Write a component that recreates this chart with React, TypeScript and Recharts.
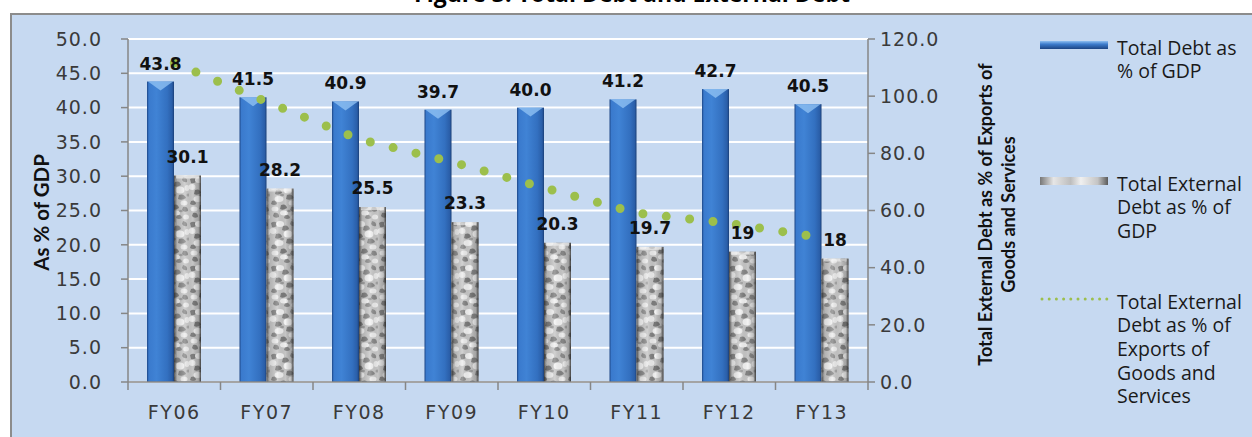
import React from "react"
import { ComposedChart, Bar, Line, XAxis, YAxis, CartesianGrid, LabelList, Label } from "recharts"

const categories = ["FY06", "FY07", "FY08", "FY09", "FY10", "FY11", "FY12", "FY13"]
const totalDebtGdp = [43.8, 41.5, 40.9, 39.7, 40.0, 41.2, 42.7, 40.5]
const externalDebtGdp = [30.1, 28.2, 25.5, 23.3, 20.3, 19.7, 19, 18]
const externalDebtExports = [111.6, 98.0, 84.9, 77.0, 67.9, 59.1, 55.5, 50.5]
const leftTicks = [0, 5, 10, 15, 20, 25, 30, 35, 40, 45, 50]
const rightTicks = [0, 20, 40, 60, 80, 100, 120]

const legendItems = [
  { key: "totalDebt", lines: ["Total Debt as", "% of GDP"], top: 47 },
  { key: "externalDebt", lines: ["Total External", "Debt as % of", "GDP"], top: 183 },
  { key: "externalExports", lines: ["Total External", "Debt as % of", "Exports of", "Goods and", "Services"], top: 301 },
]

const data = categories.map((name, i) => ({
  name,
  totalDebt: totalDebtGdp[i],
  externalDebt: externalDebtGdp[i],
  externalExports: externalDebtExports[i],
}))

const AXIS = "#868686"
const BG = "#c6d9f1"
const GREEN = "#9cbf4c"
const tickStyle = { fontFamily: '"DejaVu Sans", sans-serif', fontSize: 19, letterSpacing: 1, fill: "#3a3a3a" }
const labelStyle = { fontFamily: '"DejaVu Sans", sans-serif', fontSize: 17, fontWeight: 700, fill: "#111" }

function BlueBar(props: any) {
  const { x, y, width, height } = props
  if (!height || height <= 0) return null
  return (
    <g>
      <rect x={x} y={y} width={width} height={height} fill="url(#blueBody)" />
      <polygon points={`${x + 1},${y} ${x + width - 1},${y} ${x + width / 2},${y + 9}`} fill="#8fc0f2" opacity={0.8} />
    </g>
  )
}

function StoneBar(props: any) {
  const { x, y, width, height } = props
  if (!height || height <= 0) return null
  return (
    <g>
      <rect x={x} y={y} width={width} height={height} fill="url(#stone)" />
      <rect x={x} y={y} width={width} height={height} fill="url(#stoneShade)" />
      <rect x={x + 2} y={y} width={width - 4} height={3} fill="#f6f6f6" opacity={0.6} />
    </g>
  )
}

function CategoryTick(props: any) {
  const { x, y, payload, index } = props
  const half = payload && payload.offset ? payload.offset : 46.25
  const axisY = y - 24
  return (
    <g>
      <line x1={x - half} y1={axisY} x2={x - half} y2={axisY + 8} stroke={AXIS} strokeWidth={1.5} />
      {index === categories.length - 1 && (
        <line x1={x + half} y1={axisY} x2={x + half} y2={axisY + 8} stroke={AXIS} strokeWidth={1.5} />
      )}
      <text x={x} y={y} dy="0.71em" textAnchor="middle" {...tickStyle} letterSpacing={1.6}>
        {payload.value}
      </text>
    </g>
  )
}

function LeftTitle(props: any) {
  const vb = props.viewBox
  const cx = vb.x + 21
  const cy = vb.y + vb.height / 2 + 2
  return (
    <text
      x={cx}
      y={cy}
      transform={`rotate(-90 ${cx} ${cy})`}
      textAnchor="middle"
      dominantBaseline="central"
      style={{ fontFamily: "Lato, sans-serif", fontSize: 20.5, fontWeight: 700, fill: "#111" }}
    >
      As % of GDP
    </text>
  )
}

function RightTitle(props: any) {
  const vb = props.viewBox
  const cy = vb.y + vb.height / 2 + 4
  const lines = ["Total External Debt as % of Exports of", "Goods and Services"]
  const xs = [vb.x + 117, vb.x + 140]
  return (
    <g>
      {lines.map((t, i) => (
        <text
          key={i}
          x={xs[i]}
          y={cy}
          transform={`rotate(-90 ${xs[i]} ${cy})`}
          textAnchor="middle"
          dominantBaseline="central"
          style={{ fontFamily: "Lato, sans-serif", fontSize: 18, fontWeight: 700, fill: "#111" }}
        >
          {t}
        </text>
      ))}
    </g>
  )
}

function LegendIcon({ k, y }: { k: string; y: number }) {
  if (k === "totalDebt") return <rect x={1040} y={y - 4} width={68} height={8} fill="url(#legBlue)" />
  if (k === "externalDebt") return <rect x={1040} y={y - 4} width={68} height={8} fill="url(#legGray)" />
  return <line x1={1042} y1={y} x2={1108} y2={y} stroke={GREEN} strokeWidth={3} strokeDasharray="0 7.2" strokeLinecap="round" />
}

function LegendBlock() {
  return (
    <svg style={{ position: "absolute", left: 0, top: 0 }} width={1252} height={437}>
      <defs>
        <linearGradient id="legBlue" x1="0" y1="0" x2="0" y2="1">
          <stop offset="0" stopColor="#8fbff0" />
          <stop offset="0.4" stopColor="#3d7ccc" />
          <stop offset="1" stopColor="#1d4583" />
        </linearGradient>
        <linearGradient id="legGray" x1="0" y1="0" x2="1" y2="0">
          <stop offset="0" stopColor="#777" />
          <stop offset="0.2" stopColor="#e6e6e6" />
          <stop offset="0.45" stopColor="#bdbdbd" />
          <stop offset="0.6" stopColor="#f0f0f0" />
          <stop offset="0.85" stopColor="#c4c4c4" />
          <stop offset="1" stopColor="#5a5a5a" />
        </linearGradient>
      </defs>
      {legendItems.map((item) => (
        <g key={item.key}>
          <LegendIcon k={item.key} y={item.top - 2} />
          {item.lines.map((t, i) => (
            <text
              key={i}
              x={1117}
              y={item.top + i * 23.7}
              dominantBaseline="central"
              style={{ fontFamily: '"Open Sans", sans-serif', fontSize: 19.5, fill: "#1a1a1a" }}
            >
              {t}
            </text>
          ))}
        </g>
      ))}
    </svg>
  )
}

export default function App() {
  return (
    <div style={{ position: "absolute", left: 0, top: 0, width: 1252, height: 437, overflow: "hidden", background: "#fff" }}>
      <svg style={{ position: "absolute", left: 0, top: 0 }} width={1252} height={14}>
        <text x={632} y={1.5} textAnchor="middle" style={{ fontFamily: '"Open Sans", sans-serif', fontSize: 23, fontWeight: 700, fill: "#000" }}>
          Figure 3: Total Debt and External Debt
        </text>
      </svg>
      <div
        style={{
          position: "absolute",
          left: 10,
          top: 13,
          width: 1260,
          height: 440,
          border: "2px solid #8c8c8c",
          background: BG,
          boxSizing: "border-box",
        }}
      />
      <div style={{ position: "absolute", left: 0, top: 0 }}>
        <ComposedChart
          width={1252}
          height={437}
          data={data}
          margin={{ top: 39, right: 274, bottom: 15, left: 20 }}
          barGap={0}
          barCategoryGap={0}
        >
          <defs>
            <linearGradient id="blueBody" x1="0" y1="0" x2="1" y2="0">
              <stop offset="0" stopColor="#1c4585" />
              <stop offset="0.07" stopColor="#3a7acd" />
              <stop offset="0.35" stopColor="#4083d5" />
              <stop offset="0.75" stopColor="#3370c0" />
              <stop offset="0.93" stopColor="#2a5ea8" />
              <stop offset="1" stopColor="#1a3f78" />
            </linearGradient>
            <pattern id="stone" patternUnits="userSpaceOnUse" width={27} height={44}>
              <rect width={27} height={44} fill="#c6c6c6" />
              <path d="M1 3 Q5 0 8 4 Q6 8 2 7 Z" fill="#7e7e7e" />
              <path d="M13 6 Q18 4 19 9 Q15 12 12 10 Z" fill="#858585" />
              <path d="M21 1 Q26 2 25 6 Q22 7 20 4 Z" fill="#8a8a8a" />
              <path d="M6 14 Q11 12 12 17 Q8 20 5 18 Z" fill="#777" />
              <path d="M17 19 Q22 17 24 22 Q20 25 16 23 Z" fill="#828282" />
              <path d="M2 25 Q6 23 7 28 Q4 30 1 28 Z" fill="#808080" />
              <path d="M11 29 Q16 27 17 32 Q13 35 10 33 Z" fill="#7a7a7a" />
              <path d="M21 31 Q26 30 26 35 Q22 37 20 34 Z" fill="#868686" />
              <path d="M4 37 Q9 36 9 41 Q5 43 3 40 Z" fill="#7d7d7d" />
              <path d="M15 39 Q19 38 20 42 Q17 44 14 42 Z" fill="#888" />
              <ellipse cx={10} cy={4} rx={4} ry={3} fill="#f2f2f2" />
              <ellipse cx={3} cy={11} rx={3.5} ry={3} fill="#ececec" />
              <ellipse cx={18} cy={14} rx={4.5} ry={3.5} fill="#f4f4f4" />
              <ellipse cx={25} cy={12} rx={2.5} ry={3} fill="#e9e9e9" />
              <ellipse cx={9} cy={23} rx={4.5} ry={3} fill="#f0f0f0" />
              <ellipse cx={22} cy={27} rx={3.5} ry={2.5} fill="#ededed" />
              <ellipse cx={5} cy={33} rx={3.5} ry={2.5} fill="#ebebeb" />
              <ellipse cx={14} cy={37} rx={4} ry={2.5} fill="#f1f1f1" />
              <ellipse cx={24} cy={41} rx={3} ry={2.5} fill="#ececec" />
              <ellipse cx={12} cy={19} rx={2} ry={1.3} fill="#9c9c9c" />
              <ellipse cx={26} cy={19} rx={1.5} ry={1.5} fill="#a0a0a0" />
              <ellipse cx={19} cy={35} rx={1.8} ry={1.2} fill="#989898" />
            </pattern>
            <linearGradient id="stoneShade" x1="0" y1="0" x2="1" y2="0">
              <stop offset="0" stopColor="#202020" stopOpacity={0.8} />
              <stop offset="0.12" stopColor="#404040" stopOpacity={0.15} />
              <stop offset="0.4" stopColor="#ffffff" stopOpacity={0.2} />
              <stop offset="0.7" stopColor="#000000" stopOpacity={0} />
              <stop offset="0.9" stopColor="#404040" stopOpacity={0.25} />
              <stop offset="1" stopColor="#1a1a1a" stopOpacity={0.8} />
            </linearGradient>
          </defs>
          <CartesianGrid yAxisId="left" vertical={false} stroke="#ffffff" strokeWidth={2} />
          <XAxis
            dataKey="name"
            height={40}
            axisLine={{ stroke: AXIS, strokeWidth: 1.5 }}
            tickLine={false}
            tickSize={8}
            tickMargin={16}
            interval={0}
            tick={<CategoryTick />}
          />
          <YAxis
            yAxisId="left"
            width={108}
            domain={[0, 50]}
            ticks={leftTicks}
            interval={0}
            tickFormatter={(v: number) => v.toFixed(1)}
            axisLine={{ stroke: AXIS, strokeWidth: 1.5 }}
            tickLine={{ stroke: AXIS, strokeWidth: 1.5 }}
            tickSize={7}
            tickMargin={19}
            tick={tickStyle}
          >
            <Label content={<LeftTitle />} />
          </YAxis>
          <YAxis
            yAxisId="right"
            orientation="right"
            width={110}
            domain={[0, 120]}
            ticks={rightTicks}
            interval={0}
            tickFormatter={(v: number) => v.toFixed(1)}
            axisLine={{ stroke: AXIS, strokeWidth: 1.5 }}
            tickLine={{ stroke: AXIS, strokeWidth: 1.5 }}
            tickSize={7}
            tickMargin={5}
            tick={{ ...tickStyle, textAnchor: "start" }}
          >
            <Label content={<RightTitle />} />
          </YAxis>
          <Bar yAxisId="left" dataKey="totalDebt" barSize={27} shape={<BlueBar />} isAnimationActive={false}>
            <LabelList dataKey="totalDebt" position="top" offset={12} formatter={(v: any) => Number(v).toFixed(1)} style={labelStyle} />
          </Bar>
          <Bar yAxisId="left" dataKey="externalDebt" barSize={27} shape={<StoneBar />} isAnimationActive={false}>
            <LabelList dataKey="externalDebt" position="top" offset={13} formatter={(v: any) => String(v)} style={labelStyle} />
          </Bar>
          <Line
            yAxisId="right"
            type="linear"
            dataKey="externalExports"
            stroke={GREEN}
            strokeWidth={9}
            strokeDasharray="0 23.5"
            strokeLinecap="round"
            dot={false}
            activeDot={false}
            isAnimationActive={false}
          />
        </ComposedChart>
      </div>
      <LegendBlock />
    </div>
  )
}
